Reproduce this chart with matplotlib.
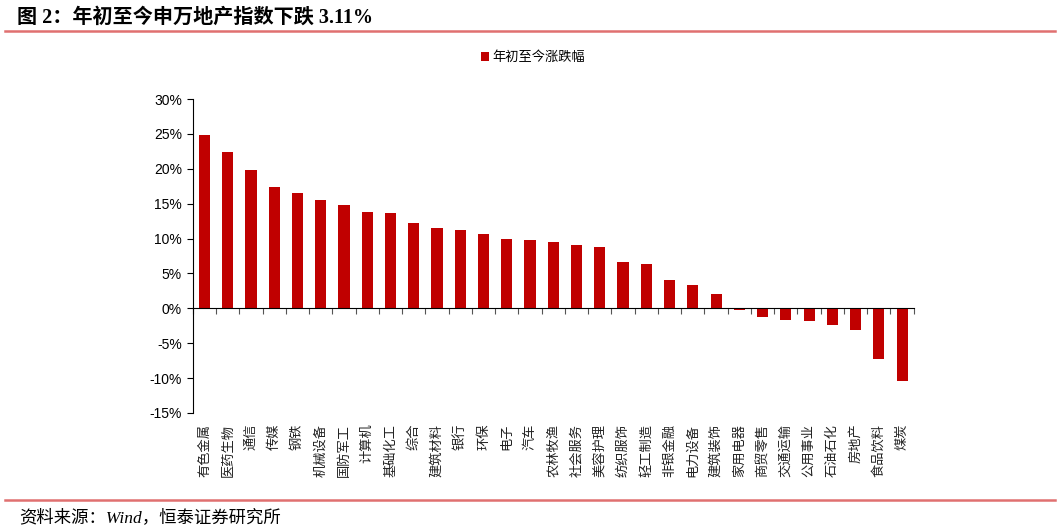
import numpy as np
import matplotlib
matplotlib.use("Agg")
import matplotlib.pyplot as plt
from matplotlib.ticker import FuncFormatter
from matplotlib.transforms import blended_transform_factory

plt.rcParams['font.family'] = ['Liberation Sans', 'Noto Sans CJK SC', 'DejaVu Sans']

# 申万一级行业 年初至今涨跌幅 (%)
industries = ["有色金属", "医药生物", "通信", "传媒", "钢铁", "机械设备", "国防军工",
              "计算机", "基础化工", "综合", "建筑材料", "银行", "环保", "电子", "汽车",
              "农林牧渔", "社会服务", "美容护理", "纺织服饰", "轻工制造", "非银金融",
              "电力设备", "建筑装饰", "家用电器", "商贸零售", "交通运输", "公用事业",
              "石油石化", "房地产", "食品饮料", "煤炭"]
changes = [24.8, 22.4, 19.9, 17.4, 16.5, 15.6, 14.8,
           13.8, 13.7, 12.3, 11.5, 11.2, 10.6, 9.9, 9.8,
           9.5, 9.1, 8.8, 6.6, 6.3, 4.0,
           3.3, 2.1, -0.2, -1.2, -1.7, -1.8,
           -2.4, -3.11, -7.3, -10.4]
series_name = "年初至今涨跌幅"
title = "图 2：年初至今申万地产指数下跌 3.11%"
source = "资料来源：Wind，恒泰证券研究所"

red = "#C00000"
line_red = "#E07070"

fig = plt.figure(figsize=(10.6, 5.3), dpi=100)
ax = fig.add_axes([0.182, 0.221, 0.680, 0.592])

x = np.arange(len(industries))
ax.bar(x, changes, width=0.48, color=red, label=series_name, zorder=2)

ax.set_xlim(-0.5, len(industries) - 0.5)
ax.set_ylim(-15, 30)
ax.set_yticks(np.arange(-15, 31, 5))
ax.yaxis.set_major_formatter(FuncFormatter(lambda v, p: f"{v:.0f}%"))
ax.tick_params(axis='y', direction='out', length=4, width=0.8, labelsize=10, pad=4)

for s in ['top', 'right']:
    ax.spines[s].set_visible(False)
ax.spines['left'].set_linewidth(0.8)
ax.spines['bottom'].set_position(('data', 0))
ax.spines['bottom'].set_linewidth(0.8)
ax.spines['bottom'].set_zorder(3)

# category boundary ticks on the zero line
ax.set_xticks(np.arange(-0.5, len(industries), 1.0))
ax.set_xticklabels([])
ax.tick_params(axis='x', direction='out', length=4, width=0.8, colors='#555555')

# category labels: rotated 90 deg, hanging from the plot bottom
trans = blended_transform_factory(ax.transData, ax.transAxes)
for xi, name in zip(x, industries):
    ax.text(xi, -0.034, name, transform=trans, ha='center', va='top', rotation=90,
            fontsize=9.5, family=['Noto Sans CJK SC'], color='#222222')

leg = fig.legend(loc='center', bbox_to_anchor=(0.503, 0.891), frameon=False,
                 prop={'family': 'Noto Sans CJK SC', 'size': 9.5},
                 handlelength=0.6, handleheight=0.6, handletextpad=0.3)

fig.text(0.016, 0.967, title, ha='left', va='center', fontsize=14.5, fontweight='bold',
         family=['Liberation Serif', 'Noto Sans CJK SC'])
fig.add_artist(plt.Line2D([0.005, 0.995], [0.941, 0.941], color=line_red, lw=1.8))
fig.add_artist(plt.Line2D([0.005, 0.995], [0.057, 0.057], color=line_red, lw=1.8))
fig.text(0.018, 0.024, source, ha='left', va='center', fontsize=12.5, style='italic',
         family=['Liberation Serif', 'Noto Sans CJK SC'])

fig.savefig("out.png", dpi=100)
